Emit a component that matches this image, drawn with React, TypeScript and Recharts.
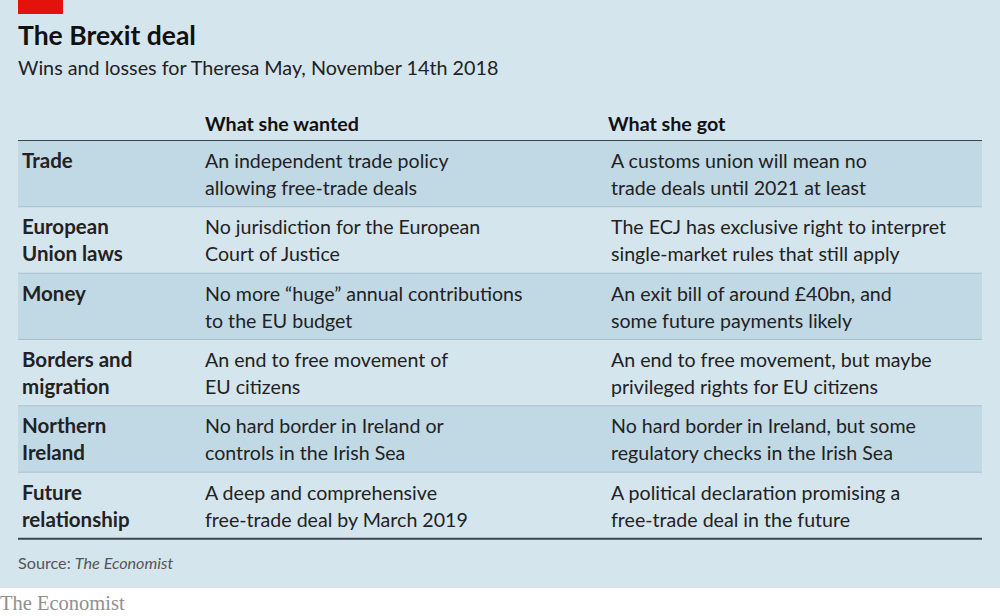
import React from "react";
import { BarChart, Bar, XAxis, YAxis, Customized } from "recharts";

const topics: string[][] = [
  ["Trade"],
  ["European", "Union laws"],
  ["Money"],
  ["Borders and", "migration"],
  ["Northern", "Ireland"],
  ["Future", "relationship"],
];

const wanted: string[][] = [
  ["An independent trade policy", "allowing free-trade deals"],
  ["No jurisdiction for the European", "Court of Justice"],
  ["No more \u201Chuge\u201D annual contributions", "to the EU budget"],
  ["An end to free movement of", "EU citizens"],
  ["No hard border in Ireland or", "controls in the Irish Sea"],
  ["A deep and comprehensive", "free-trade deal by March 2019"],
];

const got: string[][] = [
  ["A customs union will mean no", "trade deals until 2021 at least"],
  ["The ECJ has exclusive right to interpret", "single-market rules that still apply"],
  ["An exit bill of around \u00A340bn, and", "some future payments likely"],
  ["An end to free movement, but maybe", "privileged rights for EU citizens"],
  ["No hard border in Ireland, but some", "regulatory checks in the Irish Sea"],
  ["A political declaration promising a", "free-trade deal in the future"],
];

const columnHeaders = ["", "What she wanted", "What she got"];

const title = "The Brexit deal";
const subtitle = "Wins and losses for Theresa May, November 14th 2018";
const source = "The Economist";

const rows = topics.map((t, i) => ({
  topic: t.join(" "),
  band: 1,
  topicLines: t,
  wantedLines: wanted[i],
  gotLines: got[i],
}));

const FONT = "Lato, 'Open Sans', sans-serif";
const BG = "#d5e5ee";
const SHADE = "#c1d8e5";
const TEXT = "#222";
const COL_X = [22, 205, 611];

const RowShape = (props: any) => {
  const { x, y, width, height, index, payload } = props;
  const shaded = index % 2 === 0;
  const last = index === rows.length - 1;
  const renderLines = (lines: string[], cx: number, bold: boolean, size: number) =>
    lines.map((l, j) => (
      <text
        key={j}
        x={cx}
        y={y + 27 + j * 27}
        fontFamily={FONT}
        fontSize={size}
        fontWeight={bold ? 700 : 400}
        fill={TEXT}
      >
        {l}
      </text>
    ));
  return (
    <g>
      <rect x={x} y={y} width={width} height={height} fill={shaded ? SHADE : BG} />
      <line
        x1={x}
        x2={x + width}
        y1={y + height}
        y2={y + height}
        stroke={last ? "#3a454c" : "#a7bfcd"}
        strokeWidth={last ? 2 : 1.3}
      />
      {renderLines(payload.topicLines, COL_X[0], true, 20.5)}
      {renderLines(payload.wantedLines, COL_X[1], false, 19.6)}
      {renderLines(payload.gotLines, COL_X[2], false, 19.6)}
    </g>
  );
};

const Decor = () => (
  <g>
    <rect x={18} y={0} width={45} height={14} fill="#e3120b" />
    <text x={18} y={45} fontFamily={FONT} fontSize={26.5} fontWeight={700} fill="#111">
      {title}
    </text>
    <text x={18} y={75} fontFamily={FONT} fontSize={19.75} fill={TEXT}>
      {subtitle}
    </text>
    <text x={205} y={131} fontFamily={FONT} fontSize={19.7} fontWeight={700} fill="#111">
      {columnHeaders[1]}
    </text>
    <text x={608} y={131} fontFamily={FONT} fontSize={19.7} fontWeight={700} fill="#111">
      {columnHeaders[2]}
    </text>
    <line x1={18} x2={982} y1={141} y2={141} stroke="#3a454c" strokeWidth={2} />
    <text x={18} y={569} fontFamily={FONT} fontSize={16.2} fill="#555">
      Source: <tspan fontStyle="italic">{source}</tspan>
    </text>
    <rect x={0} y={588} width={1000} height={28} fill="#ffffff" />
    <text
      x={0}
      y={610}
      fontFamily="'Liberation Serif', 'DejaVu Serif', serif"
      fontSize={20.5}
      fill="#909090"
    >
      The Economist
    </text>
  </g>
);

export default function App() {
  return (
    <div
      style={{
        position: "absolute",
        left: 0,
        top: 0,
        width: 1000,
        height: 616,
        background: BG,
      }}
    >
      <BarChart
        width={1000}
        height={616}
        data={rows}
        layout="vertical"
        margin={{ top: 141, bottom: 77, left: 18, right: 18 }}
        barCategoryGap={0}
      >
        <XAxis type="number" domain={[0, 1]} hide />
        <YAxis type="category" dataKey="topic" hide width={0} />
        <Bar dataKey="band" isAnimationActive={false} shape={RowShape} />
        <Customized component={Decor} />
      </BarChart>
    </div>
  );
}
